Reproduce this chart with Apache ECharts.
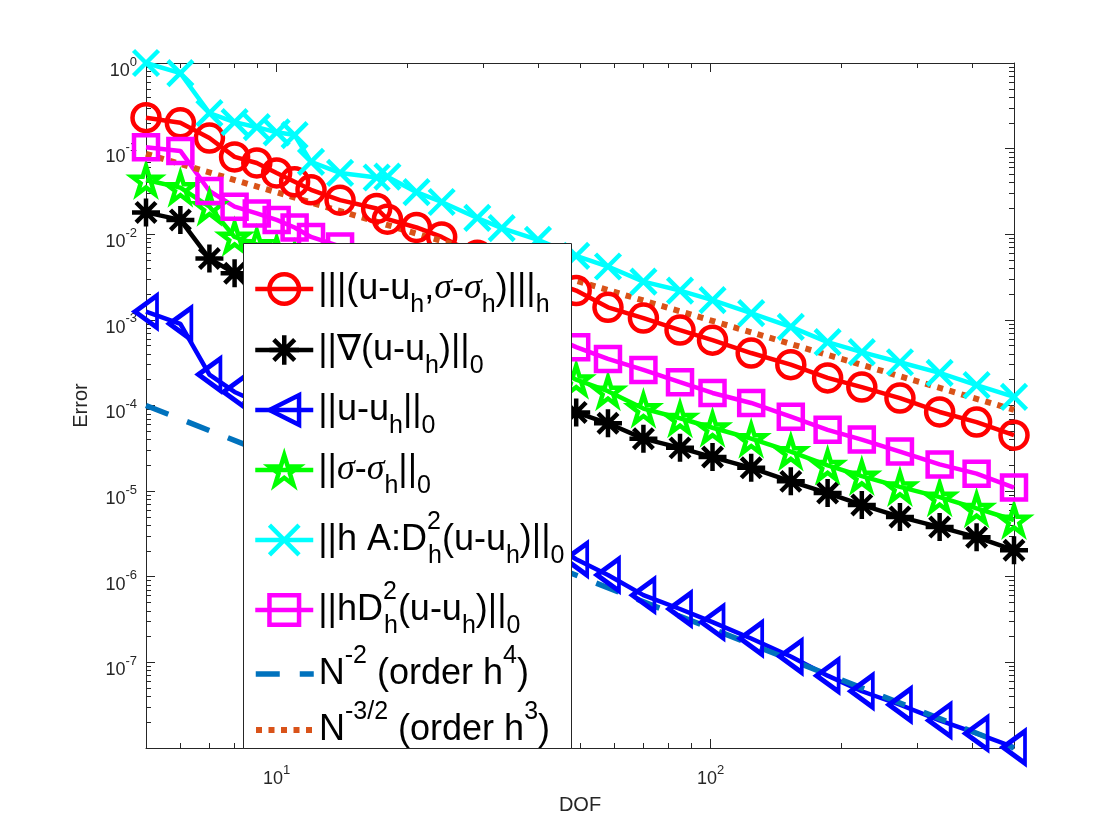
<!DOCTYPE html>
<html><head><meta charset="utf-8">
<script src="https://cdn.jsdelivr.net/npm/echarts@6/dist/echarts.min.js"></script>
<style>html,body{margin:0;padding:0;background:#fff}#c{width:1120px;height:840px}</style>
</head><body><div id="c"></div>
<script>
// ---------- data ----------
const dof = [5, 6, 7, 8, 9, 10, 11, 12, 14, 17, 18, 21, 24, 29, 33, 40, 49, 58, 70, 85, 101, 124, 153, 186, 223, 273, 337, 410, 500];
const errTriple = [0.23, 0.20, 0.133, 0.080, 0.068, 0.052, 0.041, 0.033, 0.025, 0.020, 0.015, 0.012, 0.0093, 0.0057, 0.0045, 0.0032, 0.0022, 0.0014, 0.00105, 7.6e-4, 5.8e-4, 4.1e-4, 3.0e-4, 2.1e-4, 1.64e-4, 1.22e-4, 8.4e-5, 6.4e-5, 4.5e-5];
const errGrad = [0.018, 0.0147, 0.0052, 0.0035, 0.0027, 0.0022, 0.0018, 0.0015, 0.0011, 7.5e-4, 6.6e-4, 4.9e-4, 3.7e-4, 2.5e-4, 1.9e-4, 1.3e-4, 8.3e-5, 6.2e-5, 4.1e-5, 3.2e-5, 2.5e-5, 1.87e-5, 1.3e-5, 9.5e-6, 6.9e-6, 5.0e-6, 3.8e-6, 2.9e-6, 2.04e-6];
const errU = [1.25e-3, 9.0e-4, 2.3e-4, 1.44e-4, 1.1e-4, 8.5e-5, 6.8e-5, 5.5e-5, 3.8e-5, 2.4e-5, 2.1e-5, 1.5e-5, 1.05e-5, 6.6e-6, 4.9e-6, 3.0e-6, 1.6e-6, 1.05e-6, 6.1e-7, 4.2e-7, 2.95e-7, 1.9e-7, 1.17e-7, 7.0e-8, 4.6e-8, 3.2e-8, 2.1e-8, 1.48e-8, 1.02e-8];
const errSigma = [0.043, 0.035, 0.021, 0.0093, 0.0076, 0.0062, 0.0052, 0.0044, 0.0032, 0.0022, 0.0019, 0.0014, 0.00108, 7.4e-4, 5.6e-4, 3.6e-4, 2.0e-4, 1.47e-4, 9.2e-5, 7.1e-5, 5.5e-5, 4.1e-5, 2.9e-5, 2.0e-5, 1.5e-5, 1.12e-5, 8.5e-6, 6.3e-6, 4.6e-6];
const errHAD2 = [1.0, 0.76, 0.26, 0.204, 0.178, 0.155, 0.144, 0.070, 0.052, 0.046, 0.047, 0.031, 0.0238, 0.0155, 0.0118, 0.0086, 0.0056, 0.0042, 0.0028, 0.0022, 0.0017, 0.0012, 8.3e-4, 5.5e-4, 4.2e-4, 3.2e-4, 2.4e-4, 1.73e-4, 1.26e-4];
const errHD2 = [0.104, 0.094, 0.032, 0.021, 0.0175, 0.0147, 0.012, 0.0093, 0.0072, 0.0047, 0.0042, 0.0030, 0.0023, 0.0015, 0.00115, 7.6e-4, 4.8e-4, 3.5e-4, 2.6e-4, 1.87e-4, 1.40e-4, 1.07e-4, 7.4e-5, 5.2e-5, 4.0e-5, 2.9e-5, 2.05e-5, 1.6e-5, 1.1e-5];
const refX = [5, 500];
const refN2 = [1e-4, 1e-8];
const refN32 = [0.087, 8.9e-5];
const xMajorTicks = [10, 100];
const yMajorTicks = [1, 1e-1, 1e-2, 1e-3, 1e-4, 1e-5, 1e-6, 1e-7];
const xMinorTicks = [6, 7, 8, 9, 20, 30, 40, 50, 60, 70, 80, 90, 200, 300, 400];
const yMinorTicks = [];
for (let e = -8; e <= -1; e++) for (let k = 2; k <= 9; k++) yMinorTicks.push(k * Math.pow(10, e));

// ---------- styling ----------
const FONT = "'Liberation Sans', Arial, Helvetica, 'DejaVu Sans', sans-serif";
const AX = '#262626';
const LW = 4.5;
const ASTER = 'path://M0,-10L0,10M-10,0L10,0M-7.07,-7.07L7.07,7.07M-7.07,7.07L7.07,-7.07';
const XMARK = 'path://M-10,-10L10,10M-10,10L10,-10';
const TRI_L = 'path://M0,10L17,0L17,20Z';
let starPts = [];
for (let i = 0; i < 10; i++) {
  const r = i % 2 === 0 ? 10 : 3.82;
  const a = -Math.PI / 2 + i * Math.PI / 5;
  starPts.push((r * Math.cos(a)).toFixed(3) + ',' + (r * Math.sin(a)).toFixed(3));
}
const STAR = 'path://M' + starPts.join('L') + 'Z';

const tickRich = {
  b: {fontSize: 18, lineHeight: 20, padding: [18, 0, 2, 0], color: AX, fontFamily: FONT},
  e: {fontSize: 13, lineHeight: 14, padding: [12, 0, 14, 0], color: AX, fontFamily: FONT}
};
function powLabel(v) {
  const l = Math.log10(v);
  const e = Math.round(l);
  if (Math.abs(l - e) > 1e-6) return '';
  return '{b|10}{e|' + e + '}';
}

function axis(dim, pos, ticks, len, major) {
  const isX = dim === 'x';
  return {
    type: 'log', logBase: 10, position: pos,
    min: isX ? 5 : 1e-8, max: isX ? 500 : 1,
    splitNumber: isX ? 2 : 8,
    axisLine: {show: major, onZero: false, lineStyle: {color: AX, width: 1}},
    axisTick: {show: true, inside: true, length: len, customValues: ticks, lineStyle: {color: AX, width: 1}},
    axisLabel: {show: false},
    splitLine: {show: false}, minorTick: {show: false}, minorSplitLine: {show: false},
    silent: true
  };
}
const xAxes = [
  axis('x', 'bottom', xMajorTicks, 9, true),
  axis('x', 'top', xMajorTicks, 9, true),
  axis('x', 'bottom', xMinorTicks, 5, false),
  axis('x', 'top', xMinorTicks, 5, false)
];
xAxes[0].axisLabel = {show: true, customValues: xMajorTicks, formatter: powLabel, rich: tickRich, margin: 13, color: AX};
xAxes[0].name = 'DOF';
xAxes[0].nameLocation = 'middle';
xAxes[0].nameGap = 32;
xAxes[0].nameTextStyle = {fontSize: 20, color: AX, fontFamily: FONT};
const yAxes = [
  axis('y', 'left', yMajorTicks, 9, true),
  axis('y', 'right', yMajorTicks, 9, true),
  axis('y', 'left', yMinorTicks, 5, false),
  axis('y', 'right', yMinorTicks, 5, false)
];
yAxes[0].axisLabel = {show: true, customValues: yMajorTicks, formatter: powLabel, rich: tickRich, margin: 9, color: AX};
yAxes[0].name = 'Error';
yAxes[0].nameLocation = 'middle';
yAxes[0].nameGap = 55;
yAxes[0].nameTextStyle = {fontSize: 20, color: AX, fontFamily: FONT};

function mk(name, vals, color, symbol, size) {
  return {
    name, type: 'line', xAxisIndex: 0, yAxisIndex: 0,
    data: dof.map((x, i) => [x, vals[i]]),
    symbol, symbolSize: size, showSymbol: true, clip: false, silent: true,
    lineStyle: {color, width: LW},
    itemStyle: {color: 'rgba(0,0,0,0)', borderColor: color, borderWidth: LW},
    emphasis: {disabled: true}
  };
}
function ref(name, ys, color, type, width) {
  return {
    name, type: 'line', xAxisIndex: 0, yAxisIndex: 0,
    data: refX.map((x, i) => [x, ys[i]]),
    symbol: 'none', clip: false, silent: true,
    lineStyle: {color, width, type, cap: 'butt'},
    itemStyle: {color: 'rgba(0,0,0,0)', borderWidth: 0},
    emphasis: {disabled: true}
  };
}
const series = [
  mk('s1', errTriple, '#FF0000', 'circle', 27),
  mk('s2', errGrad, '#000000', ASTER, 28),
  mk('s3', errU, '#0000FF', TRI_L, [22, 32]),
  mk('s4', errSigma, '#00FF00', STAR, 28),
  mk('s5', errHAD2, '#00FFFF', XMARK, 25),
  mk('s6', errHD2, '#FF00FF', 'rect', 24),
  ref('s7', refN2, '#0072BD', [24, 20], 5.5),
  ref('s8', refN32, '#D95319', [6, 6.5], 6)
];

const legendTexts = [
  '{m||||(u-u}{s|h}{m|,}{g|σ}{m|-}{g|σ}{s|h}{m|)|||}{s|h}',
  '{m|||∇(u-u}{s|h}{m|)||}{s|0}',
  '{m|||u-u}{s|h}{m|||}{s|0}',
  '{m|||}{g|σ}{m|-}{g|σ}{s|h}{m|||}{s|0}',
  '{m|||h A:D}{q|2}{s|h}{m|(u-u}{s|h}{m|)||}{s|0}',
  '{m|||hD}{q|2}{s|h}{m|(u-u}{s|h}{m|)||}{s|0}',
  '{m|N}{p|-2}{m| (order h}{p|4}{m|)}',
  '{m|N}{p|-3/2}{m| (order h}{p|3}{m|)}'
];
const legendRich = {
  m: {fontSize: 36, lineHeight: 40, padding: [12, 0, 12, 0], color: '#000', fontFamily: FONT},
  g: {fontSize: 36, lineHeight: 40, padding: [12, 0, 12, 0], color: '#000', fontFamily: "'Liberation Serif', 'DejaVu Serif', serif", fontStyle: 'italic'},
  s: {fontSize: 25, lineHeight: 28, padding: [34, 0, 2, 0], color: '#000', fontFamily: FONT},
  p: {fontSize: 25, lineHeight: 28, padding: [0, 0, 36, 0], color: '#000', fontFamily: FONT},
  q: {fontSize: 25, lineHeight: 28, padding: [0, 0, 36, 0], width: 1, color: '#000', fontFamily: FONT}
};
const legendCenters = [277, 338, 398, 458, 528, 598, 662, 718];
const legendLineW = [LW, LW, LW, LW, LW, LW, 5.5, 6];
const legends = series.map((s, i) => ({
  show: true, left: 253, top: legendCenters[i] - 18.5, padding: 0,
  itemWidth: 58, itemHeight: 37, selectedMode: false, z: 10,
  data: [s.name],
  formatter: () => legendTexts[i],
  textStyle: {fontSize: 36, color: '#000', fontFamily: FONT, rich: legendRich},
  lineStyle: {width: legendLineW[i]},
  itemStyle: i < 6 ? {borderWidth: LW} : {color: 'rgba(0,0,0,0)', borderWidth: 0}
}));

const chart = echarts.init(document.getElementById('c'), null, {renderer: 'canvas'});
chart.setOption({
  backgroundColor: '#fff',
  animation: false,
  grid: {left: 146, right: 106, top: 63, bottom: 92, containLabel: false, outerBoundsMode: 'none'},
  xAxis: xAxes,
  yAxis: yAxes,
  legend: legends,
  graphic: [{
    type: 'rect', left: 243, top: 243, z: 5, silent: true,
    shape: {width: 328, height: 505},
    style: {fill: '#fff', stroke: AX, lineWidth: 1}
  }],
  series
});
</script></body></html>
